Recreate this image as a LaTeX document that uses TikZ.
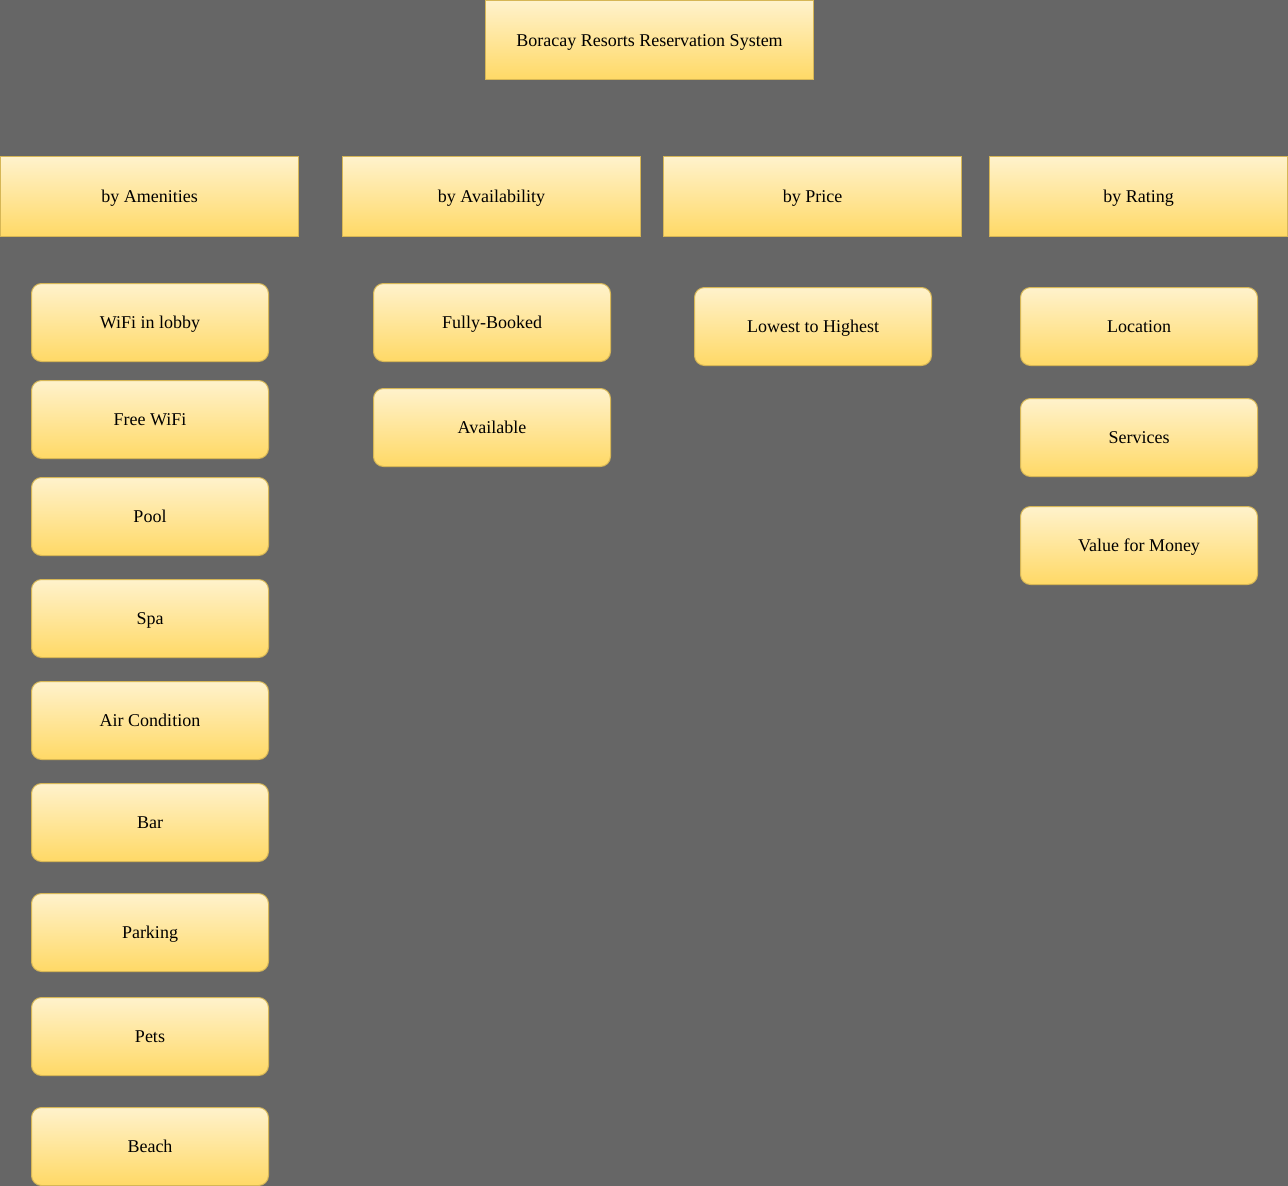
\documentclass[tikz,border=0pt]{standalone}
\usepackage{fontspec}
\setmainfont{Liberation Serif}
\definecolor{bgray}{HTML}{666666}
\definecolor{gtop}{HTML}{FFF2CC}
\definecolor{gbot}{HTML}{FFD966}
\definecolor{gline}{HTML}{D6B656}
\begin{document}
\begin{tikzpicture}[x=1pt,y=-1pt,
  base/.style={draw=gline, line width=1pt, top color=gtop, bottom color=gbot,
    anchor=north west, inner sep=0pt, text height=14pt, text depth=2pt,
    font=\fontsize{18}{21}\selectfont, text=black},
  headbox/.style={base, rectangle, minimum width=298pt, minimum height=80pt},
  titlebox/.style={base, rectangle, minimum width=328pt, minimum height=79pt},
  itembox/.style={base, rectangle, rounded corners=10pt, minimum width=237pt, minimum height=78pt}]
\fill[bgray] (0,0) rectangle (1288,1186);
\useasboundingbox (0,0) rectangle (1288,1186);

% root
\node[titlebox] (root) at (485,0) {Boracay Resorts Reservation System};

% categories
\node[headbox] (amen) at (0,156) {by Amenities};
\node[headbox] (avail) at (342,156) {by Availability};
\node[headbox] (price) at (663,156) {by Price};
\node[headbox] (rate) at (989,156) {by Rating};

% amenities
\node[itembox] (a1) at (31,283) {WiFi in lobby};
\node[itembox] (a2) at (31,380) {Free WiFi};
\node[itembox] (a3) at (31,477) {Pool};
\node[itembox] (a4) at (31,579) {Spa};
\node[itembox] (a5) at (31,681) {Air Condition};
\node[itembox] (a6) at (31,783) {Bar};
\node[itembox] (a7) at (31,893) {Parking};
\node[itembox] (a8) at (31,997) {Pets};
\node[itembox] (a9) at (31,1107) {Beach};

% availability
\node[itembox] (v1) at (373,283) {Fully-Booked};
\node[itembox] (v2) at (373,388) {Available};

% price
\node[itembox] (p1) at (694,287) {Lowest to Highest};

% rating
\node[itembox] (r1) at (1020,287) {Location};
\node[itembox] (r2) at (1020,398) {Services};
\node[itembox] (r3) at (1020,506) {Value for Money};
\end{tikzpicture}
\end{document}
